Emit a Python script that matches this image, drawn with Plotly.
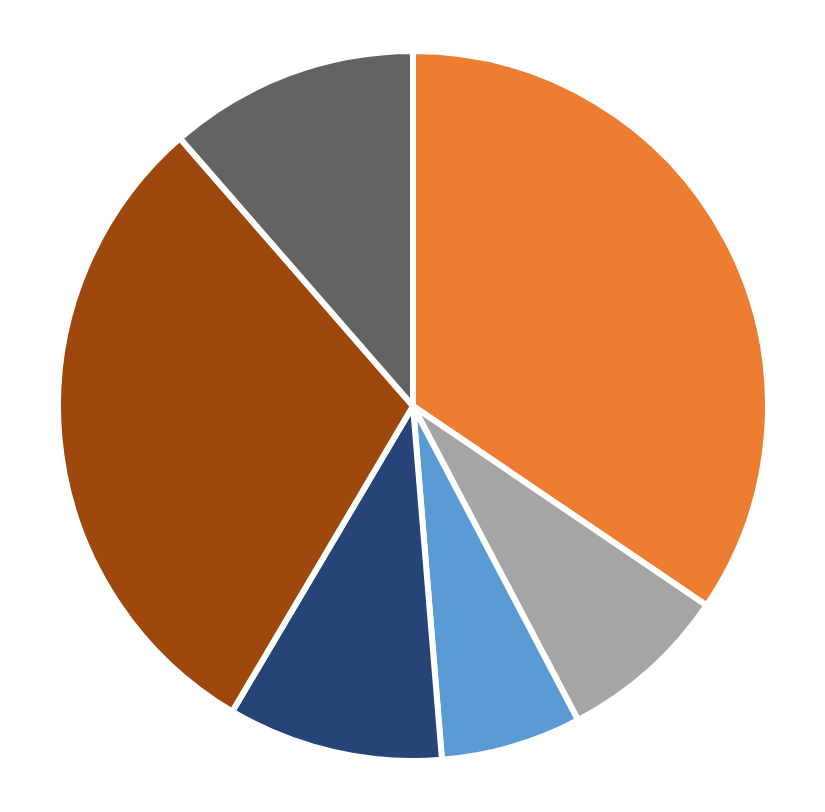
import plotly.graph_objects as go

categories = ["Category 1", "Category 2", "Category 3", "Category 4", "Category 5", "Category 6"]
values = [34.5, 7.8, 6.4, 9.8, 30.1, 11.4]
colors = ["#ED7D31", "#A5A5A5", "#5B9BD5", "#264478", "#9E480E", "#636363"]

fig = go.Figure(go.Pie(
    labels=categories,
    values=values,
    sort=False,
    direction="clockwise",
    rotation=0,
    textinfo="none",
    hoverinfo="label+percent",
    marker=dict(colors=colors, line=dict(color="#FFFFFF", width=6)),
))
fig.update_layout(
    width=825, height=812,
    margin=dict(l=50, r=65, t=43, b=59),
    showlegend=False,
    paper_bgcolor="#FFFFFF",
    plot_bgcolor="#FFFFFF",
)
fig.write_html("out.html")
